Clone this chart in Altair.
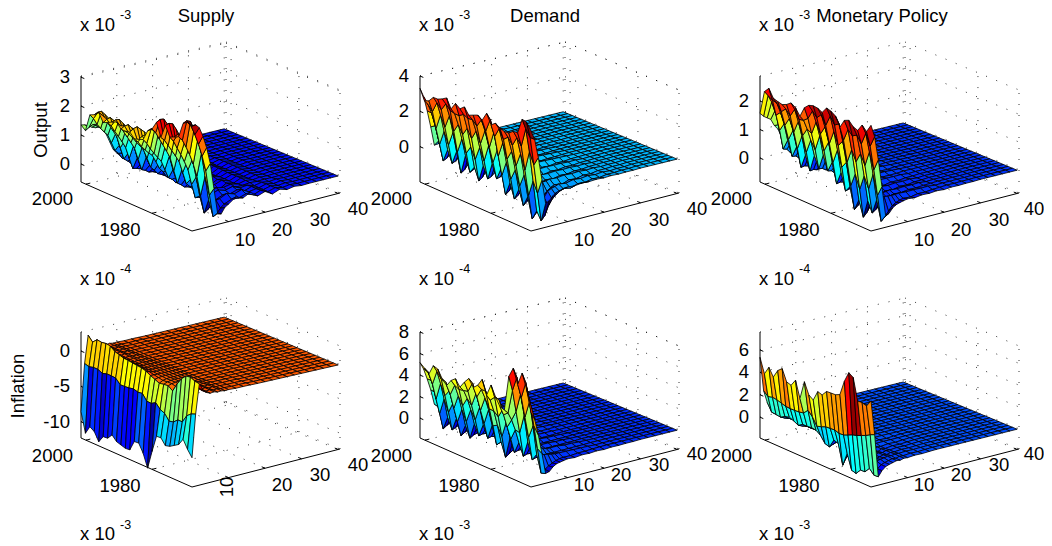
import altair as alt
import pandas as pd

alt.data_transformers.disable_max_rows()

# ---- values: surface value along the time axis (latest year first)
S_OUT_RIDGE = [1.35,1.22,1.83,1.9,2.04,1.76,1.83,1.91,1.98,1.8,1.79,1.83,1.66,1.71,1.77,2.13,2.26,2.55,2.1,2.57,2.24,2.31,2.38,2.9,3.0,2.95]
S_OUT_TROUGH = [.76,.72,.55,.35,.31,.17,.17,.2,.28,.31,.41,.55,.55,.45,.41,.31,.31,.35,.38,.21,.1,-.25,-.35,-.3,-.35,-.5]
D_OUT_RIDGE = [3.3,2.7,2.81,3.11,3.12,3.24,3.4,2.89,3.3,3.11,3.32,2.96,3.07,3.18,3.0,3.49,2.95,3.15,2.98,2.9,2.92,3.12,3.14,4.0,3.95,3.57]
D_OUT_TROUGH = [-.11,-.16,-.33,-.4,-.39,-.37,-.63,-.24,-.32,-.77,-.76,-.51,-.35,-.14,-.03,-.11,-.75,-.83,-.87,-.89,-.88,-1.13,-1.5,-1.75,-1.35,-.9]
M_OUT_RIDGE = [1.57,2.4,2.58,2.3,2.25,2.21,2.28,2.4,2.3,2.07,2.43,2.58,2.63,2.61,2.53,2.75,2.7,2.6,2.28,2.58,2.65,2.49,2.43,2.68,2.52,2.8]
M_OUT_TROUGH = [1.02,.85,.63,.47,.42,.31,.23,.25,.27,.31,.36,.43,.48,.34,.23,.18,.08,-.27,-.49,-.54,-.53,-.46,-.31,-.32,-.43,-.59]
S_INF_IMPACT = [-8.58,-11.35,-10.15,-10.57,-11.72,-10.73,-10.67,-9.94,-10.6,-10.8,-11,-10.94,-9.5,-9.44,-10.6,-12.4,-9.8,-7.4,-7.35,-8.17,-8,-7.6,-7.2,-6.2,-7.35,-8.24]
S_INF_NEXT = [-1.88,-2.07,-1.9,-1.9,-2.2,-2,-2,-2.06,-2.72,-2.7,-2.64,-2.5,-2.7,-2.6,-3.43,-3.47,-3.09,-3.77,-4.05,-4.87,-4.73,-4.17,-4.18,-3.05,-2.54,-2.3]
S_INF_PEAK = [2,1.3,1.9,1.8,1.9,1.8,1.3,1.1,.9,.84,.75,.66,.6,.4,.06,-.22,-.5,-.38,-.33,-.77,.46,1.45,2.1,2.2,1.9,1.8]
D_INF_RIDGE = [5.16,4.83,4.45,5.4,5.27,4.54,4.1,4.74,5.08,4.48,5.12,5.62,4.97,5.36,6.06,4.8,5.9,5,4.27,4.14,7.38,8.3,6.98,8.2,6.9,4.96]
D_INF_TROUGH = [.98,.24,-.26,-.26,-.21,-.12,-.24,-.22,-.04,.14,.26,.35,.53,.71,.43,-.31,-.43,.21,.23,.26,.44,.63,.34,-.24,-.46,-1.3]
M_INF_RIDGE = [5.34,4.04,4.79,4.09,4.84,5.18,4.17,4.04,4.66,3.21,4.86,3.86,3.58,4.49,4.37,4.84,4.87,4.89,5.07,6.41,7.33,7.07,5.17,5.2,5.07,5.69]
M_INF_MID = [2.3,1.94,2.05,2,1.87,1.75,1.72,1.74,1.77,1.85,2.26,1.85,1.19,1.31,1.48,1.51,1.54,1.41,1.44,1.61,1.79,1.9,2.07,2.24,2.48,2.65]
M_INF_LOW = [1.18,.47,.43,.37,.6,.71,.54,.33,.59,.58,.64,.58,.31,-.25,-.38,.39,.27,-1.48,-.27,-1.58,-1.69,-1.22,-1.2,-.73,-1.15,-1.13]
# year-to-year saw-tooth seen as diamonds on the flanks of the ridges
SAWTOOTH = [0,.9,-1,.8,-.7,1,-.9,.7,-1,.9,-.6,1,-.8,.9,-1,.7,-.9,1,-.7,.8,-1,.9,-.8,1,-.9,.5]

# ---- share of each series reached at each horizon row below
ONE_A = [1,.98,.92,.82,.7,.55,.3,.05,0]
ONE_B = [0,0,.03,.1,.25,.5,.8,1,.7,.3,.1,-.25,-.1,-.35,0,-.2,.1,-.1,.05,-.05,.02]
TWO_A = [1,.85,.6,.32,0]
TWO_B = [0,.1,.4,.75,1,.85,.55,.35,.25,.18,.12,.16,.08,.1,.05,.07,.03,.04,.02,.02]
ONLY_H0 = [1]
ONLY_H1 = [0,1]
TAIL_A = [0,0,1,.45,.2,.08,.12,.04,.07,.02,.04,.01,.02,.01]
TAIL_B = [0,0,1,.6,.35,.25,.18,.1,.14,.06,.08,.03,.05,.02]
SAW_S_OUT = [0,.12,.25,.28,.3,.3,.3,.25,.12,.1,.06,.08,.04,.05,.02]
SAW_D_OUT = [0,.2,.4,.45,.45,.4,.3,.25,.18,.12,.1,.12,.08,.08,.05,.04,.02]
SAW_M_OUT = [0,.12,.22,.28,.3,.24,.2,.12,.08,.06,.05,.05,.03,.03,.02]
SAW_D_INF = [0,.3,.6,.7,.7,.5,.4,.3,.18,.12,.1,.1,.06,.05,.03]

YEAR_TICKS = [2000, 1980]
HORIZON_TICKS = [10, 20, 30, 40]
YEAR_START, YEAR_END = 2001.5, 1967.9
HORIZON_MAX = 40.5
HORIZONS = [0,1,2,3,4,5,6,7,8,9,10,12,14,16,18,20,22,24,26,28,30,32,34,36,38,40]

PANELS = [
    dict(left=73, top=174, zlo=-.62, zhi=3.04, cmin=-.5, cmax=3.0, zticks=[0,1,2,3],
         comps=[(S_OUT_RIDGE, ONE_A), (S_OUT_TROUGH, ONE_B), (SAWTOOTH, SAW_S_OUT)], exp='-3', title='Supply', tx=198, ylabel='Output', ylx=33, yly=122),
    dict(left=412, top=174, zlo=-2.0, zhi=4.0, cmin=-1.75, cmax=4.0, zticks=[0,2,4],
         comps=[(D_OUT_RIDGE, TWO_A), (D_OUT_TROUGH, TWO_B), (SAWTOOTH, SAW_D_OUT)], exp='-3', title='Demand', tx=537),
    dict(left=752, top=174, zlo=-.84, zhi=2.88, cmin=-.6, cmax=2.8, zticks=[0,1,2],
         comps=[(M_OUT_RIDGE, TWO_A), (M_OUT_TROUGH, TWO_B), (SAWTOOTH, SAW_M_OUT)], exp='-3', title='Monetary Policy', tx=874),
    dict(left=73, top=430, zlo=-12.3, zhi=2.7, cmin=-13, cmax=3.5, zticks=[0,-5,-10],
         comps=[(S_INF_IMPACT, ONLY_H0), (S_INF_NEXT, ONLY_H1), (S_INF_PEAK, TAIL_A)], exp='-4', ylabel='Inflation', ylx=10, yly=378),
    dict(left=412, top=430, zlo=-1.84, zhi=8.0, cmin=-1.8, cmax=8.8, zticks=[0,2,4,6,8],
         comps=[(D_INF_RIDGE, TWO_A), (D_INF_TROUGH, TWO_B), (SAWTOOTH, SAW_D_INF)], exp='-4'),
    dict(left=752, top=430, zlo=-1.86, zhi=7.6, cmin=-1.9, cmax=7.5, zticks=[0,2,4,6],
         comps=[(M_INF_RIDGE, ONLY_H0), (M_INF_MID, ONLY_H1), (M_INF_LOW, TAIL_B)], exp='-4'),
]

W, H = 1036, 532
PAD_TOP = 6
BOX = dict(bx=111, by=49, cx=259, cy=11, dx=145, dy=-36)
HT = dict(a=106, b=108, c=103, d=104)


def project(p, f, g, z):
    """f: 0 latest year .. 1 earliest year, g: 0 first horizon .. 1 last horizon."""
    fx = f*(1-g)*BOX['bx'] + f*g*BOX['cx'] + (1-f)*g*BOX['dx']
    fy = f*(1-g)*BOX['by'] + f*g*BOX['cy'] + (1-f)*g*BOX['dy']
    ht = (1-f)*(1-g)*HT['a'] + f*(1-g)*HT['b'] + f*g*HT['c'] + (1-f)*g*HT['d']
    return p['left'] + fx, p['top'] + fy - ht*(z-p['zlo'])/(p['zhi']-p['zlo'])


def year_f(y):
    return (YEAR_START-y)/(YEAR_START-YEAR_END)


quads, qid = [], 0
N_H = len(HORIZONS)
for p in PANELS:
    n = len(p['comps'][0][0])
    grid = []
    for i in range(n):
        row = []
        for h in range(N_H):
            v = 0.0
            for series, share in p['comps']:
                if h < len(share):
                    v += series[i]*share[h]
            row.append(v)
        grid.append(row)
    for i in range(n-1):
        for h in range(N_H-2, -1, -1):
            cc = (grid[i][h]-p['cmin'])/(p['cmax']-p['cmin'])
            corners = [(i, h), (i+1, h), (i+1, h+1), (i, h+1), (i, h)]
            for k, (a, b) in enumerate(corners):
                x, y = project(p, a/(n-1), HORIZONS[b]/HORIZON_MAX, grid[a][b])
                quads.append(dict(q=qid, k=k, x=round(x, 2), y=round(y, 2), c=round(min(max(cc, 0), 1), 3)))
            qid += 1

dots, solid = [], []
for p in PANELS:
    def seg(lst, a, b):
        x1, y1 = project(p, *a)
        x2, y2 = project(p, *b)
        lst.append(dict(x=x1, y=y1, x2=x2, y2=y2))
    zl, zh = p['zlo'], p['zhi']
    gm = 1.0
    for z in p['zticks']:
        seg(dots, (0, 0, z), (0, gm, z))
        seg(dots, (0, gm, z), (1, gm, z))
        seg(solid, (0, 0, z), (.03, 0, z))
    for h in HORIZON_TICKS:
        g = h/HORIZON_MAX
        seg(dots, (0, g, zl), (0, g, zh))
        seg(dots, (0, g, zl), (1, g, zl))
        seg(solid, (1, g, zl), (.97, g, zl))
    for y in YEAR_TICKS:
        f = year_f(y)
        seg(dots, (f, 0, zl), (f, gm, zl))
        seg(dots, (f, gm, zl), (f, gm, zh))
        seg(solid, (f, 0, zl), (f, .03, zl))
    seg(dots, (0, gm, zl), (0, gm, zh))
    seg(dots, (0, gm, zl), (1, gm, zl))
    seg(dots, (1, gm, zl), (1, gm, zh))
    seg(dots, (0, 0, zh), (0, gm, zh))
    seg(dots, (0, gm, zh), (1, gm, zh))
    seg(solid, (0, 0, zl), (0, 0, zh))
    seg(solid, (0, 0, zl), (1, 0, zl))
    seg(solid, (1, 0, zl), (1, gm, zl))

right_labels, center_labels, exps, titles, rotated = [], [], [], [], []
ROW_LABEL_Y = {174: (191, 222), 430: (448, 478)}
HLAB = {10: (237, 232), 20: (274, 222), 30: (312, 212), 40: (350, 201)}
HLAB_LOW = {20: (274, 477), 30: (312, 467), 40: (350, 457)}
for p in PANELS:
    d = p['left'] - 73
    for z in p['zticks']:
        _, y = project(p, 0, 0, z)
        right_labels.append(dict(x=p['left']-11, y=y, t=str(z)))
    y20, y19 = ROW_LABEL_Y[p['top']]
    right_labels.append(dict(x=p['left']-8, y=y20, t=str(YEAR_TICKS[0])))
    center_labels.append(dict(x=d+112, y=y19, t=str(YEAR_TICKS[1])))
    for h in HORIZON_TICKS:
        if p['top'] == 174:
            lx, ly = HLAB[h]
        elif d != 0:
            lx, ly = HLAB[h][0], HLAB[h][1]+245
        elif h == 10:
            rotated.append(dict(x=219, y=479, t=str(h)))
            continue
        else:
            lx, ly = HLAB_LOW[h]
        if h == 40 and d == 679:
            lx -= 3
        center_labels.append(dict(x=d+lx, y=ly, t=str(h)))
    base = 23 if p['top'] == 174 else 277
    exps.append(dict(x=d+72, y=base, t='x 10', s=18.5))
    exps.append(dict(x=d+112, y=base-12, t=p['exp'], s=12.5))
    if p['top'] == 430:
        exps.append(dict(x=d+72, y=532, t='x 10', s=18.5))
        exps.append(dict(x=d+112, y=521, t='-3', s=12.5))
    if 'title' in p:
        titles.append(dict(x=p['tx'], y=14, t=p['title']))
    if 'ylabel' in p:
        rotated.append(dict(x=p['ylx'], y=p['yly'], t=p['ylabel']))

FONT = 'Liberation Sans'
sx = alt.Scale(domain=[0, W], range=[0, W], nice=False, zero=False)
sy = alt.Scale(domain=[H+PAD_TOP, PAD_TOP], range=[H, 0], nice=False, zero=False)
X = alt.X('x:Q', scale=sx, axis=None)
Y = alt.Y('y:Q', scale=sy, axis=None)

JET_STOPS = [0, .125, .375, .625, .875, 1]
JET_COLORS = ['#000084', '#0000ff', '#00ffff', '#ffff00', '#ff0000', '#800000']

grid_layer = alt.Chart(pd.DataFrame(dots)).mark_rule(color='#000000', strokeWidth=.8, strokeDash=[1, 10]).encode(X, Y, x2='x2:Q', y2='y2:Q')
axis_layer = alt.Chart(pd.DataFrame(solid)).mark_rule(color='#000000', strokeWidth=1).encode(X, Y, x2='x2:Q', y2='y2:Q')
surface = alt.Chart(pd.DataFrame(quads)).mark_line(stroke='#000000', strokeWidth=.8, interpolate='linear').encode(
    X, Y,
    detail='q:N',
    order='k:Q',
    fill=alt.Fill('c:Q', scale=alt.Scale(domain=JET_STOPS, range=JET_COLORS, interpolate='rgb'), legend=None),
)


def text_layer(rows, **kw):
    return alt.Chart(pd.DataFrame(rows)).mark_text(font=FONT, color='#000000', **kw).encode(X, Y, text='t:N')


layers = [
    grid_layer, axis_layer, surface,
    text_layer(right_labels, fontSize=18.5, baseline='middle', align='right'),
    text_layer(center_labels, fontSize=18.5, baseline='middle', align='center'),
    text_layer(titles, fontSize=18.5, baseline='alphabetic', align='center'),
    text_layer([e for e in exps if e['s'] > 15], fontSize=18.5, baseline='alphabetic', align='left'),
    text_layer([e for e in exps if e['s'] < 15], fontSize=12.5, baseline='alphabetic', align='left'),
    text_layer(rotated, fontSize=18.5, baseline='middle', align='center', angle=270),
]

chart = alt.layer(*layers).resolve_scale(x='shared', y='shared').properties(
    width=W, height=H, padding={"top": PAD_TOP, "left": 0, "right": 0, "bottom": 0},
    autosize=alt.AutoSizeParams(type='none')
).configure_view(stroke=None)

chart.save("out.html", embed_options={"renderer": "svg", "actions": False})
